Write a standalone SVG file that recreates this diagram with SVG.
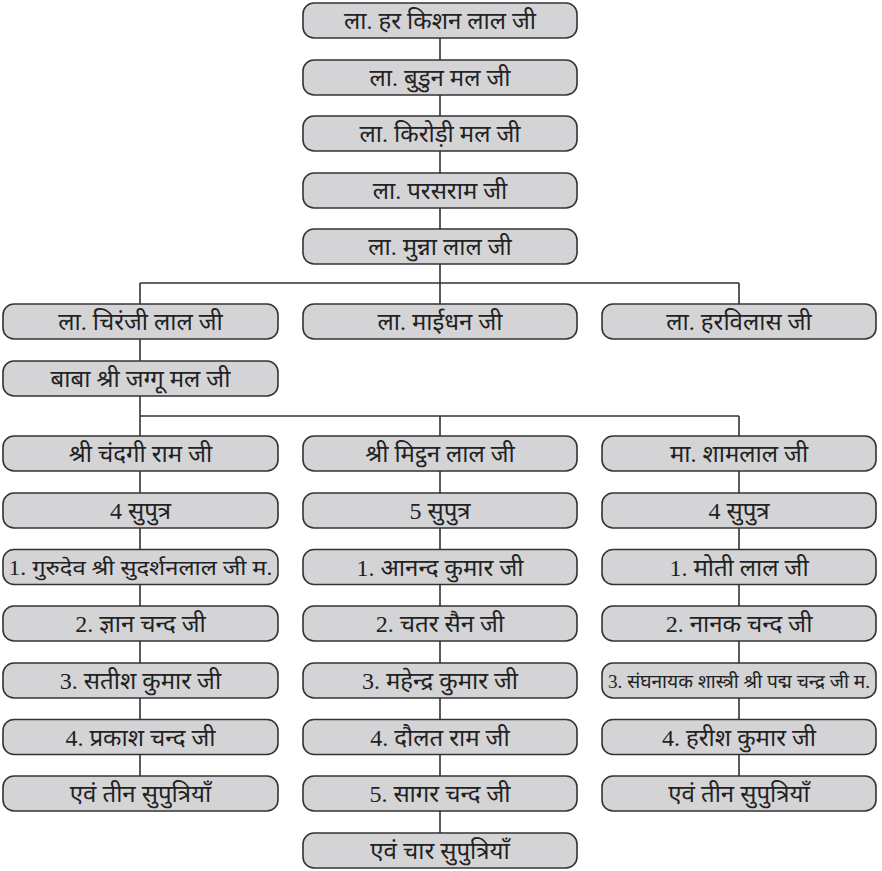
<svg xmlns="http://www.w3.org/2000/svg" width="882" height="871" viewBox="0 0 882 871">
<style>
.box{fill:#d4d4d6;stroke:#333;stroke-width:1.6}
.t{font-family:'Liberation Serif','Noto Sans Devanagari','Noto Serif Devanagari','Lohit Devanagari','Noto Sans',serif;font-size:24px;fill:#222;text-anchor:middle}
.s{font-size:21px}
.xs{font-size:19px}
.c{fill:none;stroke:#333;stroke-width:1.6}
</style>
<rect width="882" height="871" fill="#fff"/>
<g id="connectors">
<path class="c" d="M440 38V60M440 95V116M440 151V173M440 208V229M440 264V283M140 283H739M140 283V304M440 283V304M739 283V304M140 339V361M140 396V416M140 416H739M140 416V436M440 416V436M739 416V436
M140 471V493M140 528V549.5M140 584.5V606M140 641V663M140 698V719.5M140 754.5V776
M440 471V493M440 528V549.5M440 584.5V606M440 641V663M440 698V719.5M440 754.5V776M440 811V833
M739 471V493M739 528V549.5M739 584.5V606M739 641V663M739 698V719.5M739 754.5V776"/>
</g>
<g id="n1"><rect class="box" x="303" y="3" width="274" height="35" rx="11"/><text class="t" x="440" y="29">ला. हर किशन लाल जी</text></g>
<g id="n2"><rect class="box" x="303" y="60" width="274" height="35" rx="11"/><text class="t" x="440" y="86">ला. बुडुन मल जी</text></g>
<g id="n3"><rect class="box" x="303" y="116" width="274" height="35" rx="11"/><text class="t" x="440" y="142">ला. किरोड़ी मल जी</text></g>
<g id="n4"><rect class="box" x="303" y="173" width="274" height="35" rx="11"/><text class="t" x="440" y="199">ला. परसराम जी</text></g>
<g id="n5"><rect class="box" x="303" y="229" width="274" height="35" rx="11"/><text class="t" x="440" y="255">ला. मुन्ना लाल जी</text></g>
<g id="n6"><rect class="box" x="3" y="304" width="275" height="35" rx="11"/><text class="t" x="140.5" y="330">ला. चिरंजी लाल जी</text></g>
<g id="n7"><rect class="box" x="303" y="304" width="274" height="35" rx="11"/><text class="t" x="440" y="330">ला. माईधन जी</text></g>
<g id="n8"><rect class="box" x="602" y="304" width="274" height="35" rx="11"/><text class="t" x="739" y="330">ला. हरविलास जी</text></g>
<g id="n9"><rect class="box" x="3" y="361" width="275" height="35" rx="11"/><text class="t" x="140.5" y="387">बाबा श्री जग्गू मल जी</text></g>
<g id="l1"><rect class="box" x="3" y="436" width="275" height="35" rx="11"/><text class="t" x="140.5" y="462">श्री चंदगी राम जी</text></g>
<g id="l2"><rect class="box" x="3" y="493" width="275" height="35" rx="11"/><text class="t" x="140.5" y="519">4 सुपुत्र</text></g>
<g id="l3"><rect class="box" x="3" y="549.5" width="275" height="35" rx="11"/><text class="t s" x="140.5" y="574.5" textLength="264" lengthAdjust="spacingAndGlyphs">1. गुरुदेव श्री सुदर्शनलाल जी म.</text></g>
<g id="l4"><rect class="box" x="3" y="606" width="275" height="35" rx="11"/><text class="t" x="140.5" y="632">2. ज्ञान चन्द जी</text></g>
<g id="l5"><rect class="box" x="3" y="663" width="275" height="35" rx="11"/><text class="t" x="140.5" y="689">3. सतीश कुमार जी</text></g>
<g id="l6"><rect class="box" x="3" y="719.5" width="275" height="35" rx="11"/><text class="t" x="140.5" y="745.5">4. प्रकाश चन्द जी</text></g>
<g id="l7"><rect class="box" x="3" y="776" width="275" height="35" rx="11"/><text class="t" x="140.5" y="802">एवं तीन सुपुत्रियाँ</text></g>
<g id="m1"><rect class="box" x="303" y="436" width="274" height="35" rx="11"/><text class="t" x="440" y="462">श्री मिट्ठन लाल जी</text></g>
<g id="m2"><rect class="box" x="303" y="493" width="274" height="35" rx="11"/><text class="t" x="440" y="519">5 सुपुत्र</text></g>
<g id="m3"><rect class="box" x="303" y="549.5" width="274" height="35" rx="11"/><text class="t" x="440" y="575.5">1. आनन्द कुमार जी</text></g>
<g id="m4"><rect class="box" x="303" y="606" width="274" height="35" rx="11"/><text class="t" x="440" y="632">2. चतर सैन जी</text></g>
<g id="m5"><rect class="box" x="303" y="663" width="274" height="35" rx="11"/><text class="t" x="440" y="689">3. महेन्द्र कुमार जी</text></g>
<g id="m6"><rect class="box" x="303" y="719.5" width="274" height="35" rx="11"/><text class="t" x="440" y="745.5">4. दौलत राम जी</text></g>
<g id="m7"><rect class="box" x="303" y="776" width="274" height="35" rx="11"/><text class="t" x="440" y="802">5. सागर चन्द जी</text></g>
<g id="m8"><rect class="box" x="303" y="833" width="274" height="35" rx="11"/><text class="t" x="440" y="859">एवं चार सुपुत्रियाँ</text></g>
<g id="r1"><rect class="box" x="602" y="436" width="274" height="35" rx="11"/><text class="t" x="739" y="462">मा. शामलाल जी</text></g>
<g id="r2"><rect class="box" x="602" y="493" width="274" height="35" rx="11"/><text class="t" x="739" y="519">4 सुपुत्र</text></g>
<g id="r3"><rect class="box" x="602" y="549.5" width="274" height="35" rx="11"/><text class="t" x="739" y="575.5">1. मोती लाल जी</text></g>
<g id="r4"><rect class="box" x="602" y="606" width="274" height="35" rx="11"/><text class="t" x="739" y="632">2. नानक चन्द जी</text></g>
<g id="r5"><rect class="box" x="602" y="663" width="274" height="35" rx="11"/><text class="t xs" x="739" y="688" textLength="262" lengthAdjust="spacingAndGlyphs">3. संघनायक शास्त्री श्री पद्म चन्द्र जी म.</text></g>
<g id="r6"><rect class="box" x="602" y="719.5" width="274" height="35" rx="11"/><text class="t" x="739" y="745.5">4. हरीश कुमार जी</text></g>
<g id="r7"><rect class="box" x="602" y="776" width="274" height="35" rx="11"/><text class="t" x="739" y="802">एवं तीन सुपुत्रियाँ</text></g>
</svg>
